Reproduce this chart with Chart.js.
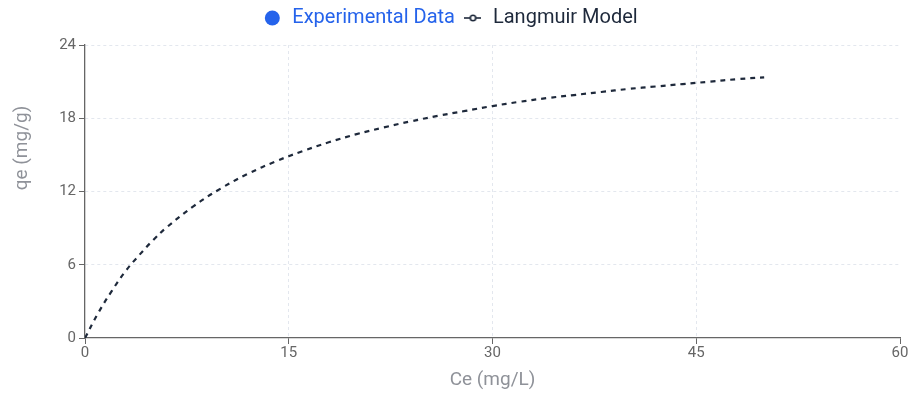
<!DOCTYPE html>
<html>
<head>
<meta charset="utf-8">
<script src="https://cdn.jsdelivr.net/npm/chart.js@4"></script>
<style>
  html, body { margin: 0; padding: 0; background: #fff; }
  #wrap { width: 910px; height: 396px; }
</style>
</head>
<body>
<div id="wrap"><canvas id="chart" width="910" height="396"></canvas></div>
<script>
// values
const modelCe = [0, 1, 2, 3, 4, 5, 6, 8, 10, 12, 14, 16, 18, 20, 22, 24, 26, 28, 30, 32, 34, 36, 38, 40, 42, 44, 46, 48, 50];
const modelQe = [0, 2.1, 3.9, 5.5, 6.8, 8.0, 9.05, 10.8, 12.25, 13.45, 14.45, 15.3, 16.05, 16.7, 17.25, 17.75, 18.2, 18.6, 19.0, 19.35, 19.65, 19.9, 20.15, 20.4, 20.6, 20.8, 21.0, 21.2, 21.35];
const experimentalCe = [];
const experimentalQe = [];
const xTicks = [0, 15, 30, 45, 60];
const yTicks = [0, 6, 12, 18, 24];
const yTitle = "qe (mg/g)";

const BLUE = "#2563eb";
const DARK = "#1e293b";
const AXIS = "#666666";
const GRID = "#e3e7ee";
const TITLE = "#8f9299";
const FONT = "Roboto";

const toPoints = (xs, ys) => xs.map((x, i) => ({ x: x, y: ys[i] }));

// little line-with-ring icon for the model legend entry
function lineIcon() {
  const c = document.createElement("canvas");
  c.width = 17;
  c.height = 10;
  const g = c.getContext("2d");
  g.strokeStyle = DARK;
  g.lineWidth = 1.6;
  g.beginPath();
  g.moveTo(0, 5);
  g.lineTo(17, 5);
  g.stroke();
  g.fillStyle = "#fff";
  g.beginPath();
  g.arc(8.5, 5, 2.7, 0, Math.PI * 2);
  g.fill();
  g.stroke();
  return c;
}

// legend sits high, leave a gap under it before the plot
const legendGap = {
  id: "legendGap",
  afterInit(chart) {
    const lg = chart.legend;
    const fit = lg.fit.bind(lg);
    lg.fit = function () {
      fit();
      this.height += 7;
    };
  },
};

// the y title sits above the middle of the axis in the reference
const yTitlePlugin = {
  id: "yTitle",
  afterDraw(chart) {
    const ctx = chart.ctx;
    ctx.save();
    ctx.translate(22, 148);
    ctx.rotate(-Math.PI / 2);
    ctx.fillStyle = TITLE;
    ctx.font = "19px " + FONT;
    ctx.textAlign = "center";
    ctx.textBaseline = "middle";
    ctx.fillText(yTitle, 0, 0);
    ctx.restore();
  },
};

new Chart(document.getElementById("chart"), {
  type: "scatter",
  data: {
    datasets: [
      {
        label: "Experimental Data",
        data: toPoints(experimentalCe, experimentalQe),
        backgroundColor: BLUE,
        borderColor: BLUE,
        pointStyle: "circle",
        pointRadius: 5,
      },
      {
        label: "Langmuir Model",
        data: toPoints(modelCe, modelQe),
        showLine: true,
        borderColor: DARK,
        backgroundColor: DARK,
        borderWidth: 2.2,
        borderDash: [5, 5],
        pointRadius: 0,
        tension: 0.4,
        pointStyle: lineIcon(),
      },
    ],
  },
  plugins: [legendGap, yTitlePlugin],
  options: {
    responsive: false,
    animation: false,
    layout: { padding: { left: 0, right: 10, top: 0, bottom: 0 } },
    plugins: {
      tooltip: { enabled: false },
      legend: {
        position: "top",
        align: "center",
        labels: {
          usePointStyle: true,
          boxHeight: 10.6,
          padding: 8,
          font: { family: FONT, size: 20 },
          generateLabels(chart) {
            const items = Chart.defaults.plugins.legend.labels.generateLabels(chart);
            items.forEach((it, i) => {
              it.fontColor = i === 0 ? BLUE : DARK;
              it.lineWidth = 0;
            });
            return items;
          },
        },
      },
    },
    scales: {
      x: {
        type: "linear",
        min: 0,
        max: 60,
        afterBuildTicks: (s) => { s.ticks = xTicks.map((v) => ({ value: v })); },
        afterFit: (s) => { s.height = 58; },
        ticks: { color: AXIS, font: { family: FONT, size: 15 }, padding: 0 },
        grid: {
          color: (c) => (c.tick && (c.tick.value === 0 || c.tick.value === 60) ? "rgba(0,0,0,0)" : GRID),
          tickColor: AXIS,
          tickLength: 6,
          tickBorderDash: [],
        },
        border: { color: AXIS, width: 1.3, dash: [3, 3] },
        title: {
          display: true,
          text: "Ce (mg/L)",
          color: TITLE,
          font: { family: FONT, size: 19 },
          padding: { top: 8 },
        },
      },
      y: {
        type: "linear",
        min: 0,
        max: 24,
        afterBuildTicks: (s) => { s.ticks = yTicks.map((v) => ({ value: v })); },
        afterFit: (s) => { s.width = 85; },
        ticks: { color: AXIS, font: { family: FONT, size: 15 }, padding: 3 },
        grid: {
          color: (c) => (c.tick && c.tick.value === 0 ? "rgba(0,0,0,0)" : GRID),
          tickColor: AXIS,
          tickLength: 6,
          tickBorderDash: [],
        },
        border: { color: AXIS, width: 1.3, dash: [3, 3] },
        title: { display: false },
      },
    },
  },
});
</script>
</body>
</html>
